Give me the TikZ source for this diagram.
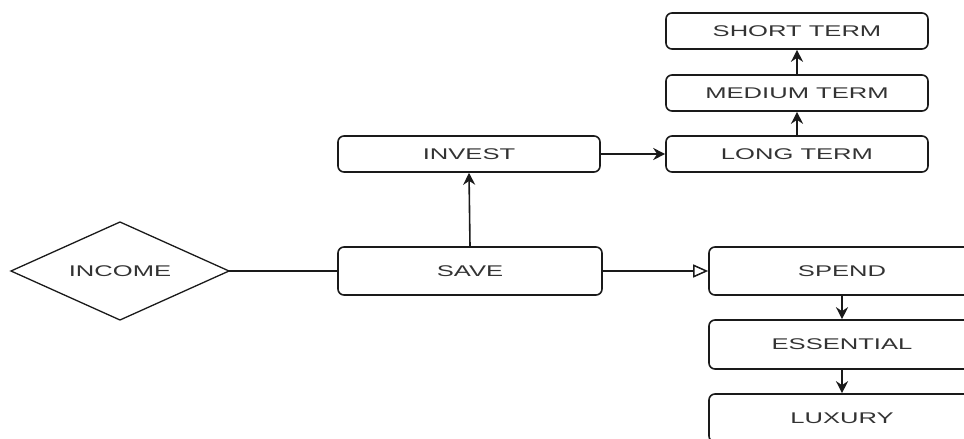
\documentclass[tikz,border=0pt]{standalone}
\usepackage{fontspec}
\newfontfamily\lblfont[FakeStretch=1.65]{Liberation Sans}
\usetikzlibrary{arrows.meta,shapes.geometric}
\definecolor{txt}{HTML}{333333}
\definecolor{ln}{HTML}{1A1A1A}
\begin{document}
\begin{tikzpicture}[x=1pt,y=-1pt,
  box/.style={draw=ln, line width=1.6pt, rounded corners=6pt, fill=white,
    font=\lblfont\fontsize{15.5}{18}\selectfont, text=txt, inner sep=0pt},
  dia/.style={draw=ln, line width=1.3pt, diamond, aspect=2.22, inner sep=0pt, outer sep=0pt, fill=white,
    font=\lblfont\fontsize{15.5}{18}\selectfont, text=txt,
    minimum width=218pt, minimum height=98pt},
  conn/.style={draw=ln, line width=1.6pt},
  arr/.style={conn, -{Stealth[length=12pt,width=12pt]}},
  oarr/.style={conn, -{Triangle[open,length=15pt,width=13pt,line width=1.5pt]}}
]
\useasboundingbox (0,0) rectangle (964,439);
\clip (0,0) rectangle (964,439);
\fill[white] (0,0) rectangle (964,439);

\node[dia] (income) at (120,271) {INCOME};
\node[box, minimum width=264pt, minimum height=48pt] (save) at (470,271) {SAVE};
\node[box, minimum width=262pt, minimum height=36pt] (invest) at (469,154) {INVEST};
\node[box, minimum width=262pt, minimum height=36pt] (long) at (797,154) {LONG TERM};
\node[box, minimum width=262pt, minimum height=36pt] (medium) at (797,93) {MEDIUM TERM};
\node[box, minimum width=262pt, minimum height=36pt] (short) at (797,31) {SHORT TERM};
\node[box, minimum width=266pt, minimum height=48pt] (spend) at (842,271) {SPEND};
\node[box, minimum width=266pt, minimum height=49pt] (essential) at (842,344.5) {ESSENTIAL};
\node[box, minimum width=266pt, minimum height=48pt] (luxury) at (842,418) {LUXURY};

\draw[conn] (income.east) -- (save.west);
\draw[oarr] (save.east) -- (spend.west);
\draw[arr] (save.north) -- (invest.south);
\draw[arr] (invest.east) -- (long.west);
\draw[arr] (long.north) -- (medium.south);
\draw[arr] (medium.north) -- (short.south);
\draw[arr] (spend.south) -- (essential.north);
\draw[arr] (essential.south) -- (luxury.north);
\end{tikzpicture}
\end{document}
